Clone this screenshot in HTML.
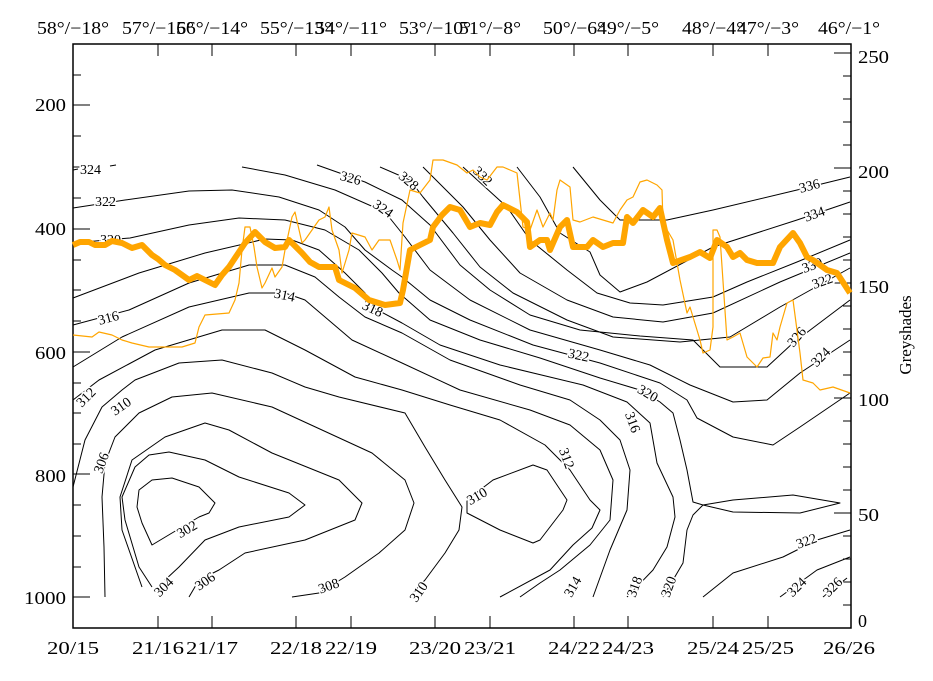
<!DOCTYPE html>
<html><head><meta charset="utf-8"><style>
html,body{margin:0;padding:0;background:#fff;}
svg{display:block;}
text{font-family:"Liberation Serif","DejaVu Serif",serif;fill:#000;}
.c{fill:none;stroke:#000;stroke-width:1;stroke-linejoin:round;}
.l{font-size:14px;paint-order:stroke;stroke:#fff;stroke-width:3px;}
</style></head><body>
<svg width="933" height="681" viewBox="0 0 933 681" xmlns="http://www.w3.org/2000/svg">
<rect width="933" height="681" fill="#fff"/>
<!-- top labels -->
<g font-size="18" text-anchor="middle" lengthAdjust="spacingAndGlyphs">
<text x="73" y="34" textLength="72" lengthAdjust="spacingAndGlyphs">58°/−18°</text>
<text x="158" y="34" textLength="72" lengthAdjust="spacingAndGlyphs">57°/−16°</text>
<text x="212" y="34" textLength="72" lengthAdjust="spacingAndGlyphs">56°/−14°</text>
<text x="296" y="34" textLength="72" lengthAdjust="spacingAndGlyphs">55°/−13°</text>
<text x="351" y="34" textLength="72" lengthAdjust="spacingAndGlyphs">54°/−11°</text>
<text x="435" y="34" textLength="72" lengthAdjust="spacingAndGlyphs">53°/−10°</text>
<text x="490" y="34" textLength="62" lengthAdjust="spacingAndGlyphs">51°/−8°</text>
<text x="574" y="34" textLength="62" lengthAdjust="spacingAndGlyphs">50°/−6°</text>
<text x="628" y="34" textLength="62" lengthAdjust="spacingAndGlyphs">49°/−5°</text>
<text x="713" y="34" textLength="62" lengthAdjust="spacingAndGlyphs">48°/−4°</text>
<text x="768" y="34" textLength="62" lengthAdjust="spacingAndGlyphs">47°/−3°</text>
<text x="849" y="34" textLength="62" lengthAdjust="spacingAndGlyphs">46°/−1°</text>
</g>
<!-- bottom labels -->
<g font-size="18" text-anchor="middle">
<text x="73" y="654" textLength="52" lengthAdjust="spacingAndGlyphs">20/15</text>
<text x="158" y="654" textLength="52" lengthAdjust="spacingAndGlyphs">21/16</text>
<text x="212" y="654" textLength="52" lengthAdjust="spacingAndGlyphs">21/17</text>
<text x="296" y="654" textLength="52" lengthAdjust="spacingAndGlyphs">22/18</text>
<text x="351" y="654" textLength="52" lengthAdjust="spacingAndGlyphs">22/19</text>
<text x="435" y="654" textLength="52" lengthAdjust="spacingAndGlyphs">23/20</text>
<text x="490" y="654" textLength="52" lengthAdjust="spacingAndGlyphs">23/21</text>
<text x="574" y="654" textLength="52" lengthAdjust="spacingAndGlyphs">24/22</text>
<text x="628" y="654" textLength="52" lengthAdjust="spacingAndGlyphs">24/23</text>
<text x="713" y="654" textLength="52" lengthAdjust="spacingAndGlyphs">25/24</text>
<text x="768" y="654" textLength="52" lengthAdjust="spacingAndGlyphs">25/25</text>
<text x="849" y="654" textLength="52" lengthAdjust="spacingAndGlyphs">26/26</text>
</g>
<!-- left labels -->
<g font-size="18" text-anchor="end">
<text x="66" y="111" textLength="31" lengthAdjust="spacingAndGlyphs">200</text>
<text x="66" y="235" textLength="31" lengthAdjust="spacingAndGlyphs">400</text>
<text x="66" y="359" textLength="31" lengthAdjust="spacingAndGlyphs">600</text>
<text x="66" y="482" textLength="31" lengthAdjust="spacingAndGlyphs">800</text>
<text x="66" y="604" textLength="42" lengthAdjust="spacingAndGlyphs">1000</text>
</g>
<!-- right labels -->
<g font-size="18" text-anchor="start">
<text x="858" y="63" textLength="31" lengthAdjust="spacingAndGlyphs">250</text>
<text x="858" y="178" textLength="31" lengthAdjust="spacingAndGlyphs">200</text>
<text x="858" y="293" textLength="31" lengthAdjust="spacingAndGlyphs">150</text>
<text x="858" y="406" textLength="31" lengthAdjust="spacingAndGlyphs">100</text>
<text x="858" y="521" textLength="21" lengthAdjust="spacingAndGlyphs">50</text>
<text x="858" y="627">0</text>
</g>
<text x="911" y="335" font-size="17" text-anchor="middle" transform="rotate(-90 911 335)">Greyshades</text>

<!-- frame -->
<rect x="73" y="44" width="778" height="584" fill="none" stroke="#000" stroke-width="1.5"/>
<g stroke="#000" stroke-width="1">
<path d="M73 75h8M73 105h17M73 136h8M73 167h8M73 198h8M73 229h17M73 260h8M73 290h8M73 321h8M73 352h17M73 383h8M73 413h8M73 444h8M73 474h17M73 505h8M73 536h8M73 567h8M73 597h17"/>
<path d="M851 53h-17M851 76h-8M851 99h-8M851 122h-8M851 145h-8M851 168h-17M851 191h-8M851 214h-8M851 237h-8M851 260h-8M851 283h-17M851 306h-8M851 329h-8M851 352h-8M851 375h-8M851 398h-17M851 421h-8M851 444h-8M851 467h-8M851 490h-8M851 513h-17M851 536h-8M851 559h-8M851 582h-8M851 605h-8"/>
<path d="M158 44v12M212 44v12M296 44v12M351 44v12M435 44v12M490 44v12M574 44v12M628 44v12M713 44v12M768 44v12"/>
<path d="M158 628v-12M212 628v-12M296 628v-12M351 628v-12M435 628v-12M490 628v-12M574 628v-12M628 628v-12M713 628v-12M768 628v-12"/>
</g>

<!-- contours -->
<g class="c">
<polyline points="73,170 78,169"/>
<polyline points="110,166 116,165"/>
<polyline points="573,167 600,200 620,220 667,220 713,210 797,190 850,177"/>
<polyline points="517,167 540,197 560,233 590,252 600,275 620,292 647,282 713,247 797,220 850,202"/>
<polyline points="463,167 507,207 530,240 567,270 597,293 630,303 663,305 713,297 747,282 797,262 850,240"/>
<polyline points="423,167 463,207 490,240 520,273 567,300 613,317 663,322 713,313 780,282 850,253"/>
<polyline points="380,167 410,180 423,197 453,233 480,267 513,293 567,320 613,337 680,342 730,337 780,307 850,268"/>
<polyline points="317,165 365,182 402,200 430,225 460,265 490,290 530,315 580,330 640,336 693,340 720,367 767,367 793,343 850,300"/>
<polyline points="242,167 285,175 335,190 385,212 405,237 430,270 470,300 530,330 600,350 650,365 690,385 733,402 767,400 800,373 850,340"/>
<polyline points="73,208 125,200 189,191 232,190 279,197 319,210 345,227 365,250 392,270 402,277 430,300 470,320 533,345 600,363 660,383 687,400 697,418 733,437 773,445 800,427 850,393"/>
<polyline points="73,243 130,238 189,225 239,218 285,220 325,230 359,250 382,273 399,293 430,320 480,340 540,358 600,378 640,390 660,402 673,413 680,440 687,470 693,502 703,505 693,515 687,530 683,563 673,580 663,597"/>
<polyline points="73,298 139,273 205,253 265,239 292,240 319,250 345,273 365,293 372,307 402,323 440,345 500,365 583,385 627,402 650,423 657,463 673,497 675,517 667,547 653,570 627,597"/>
<polyline points="73,325 129,310 189,283 249,265 285,265 315,277 339,297 365,317 402,333 450,360 520,385 570,400 600,420 620,440 630,470 627,510 610,550 593,597"/>
<polyline points="73,367 122,337 189,307 249,293 285,293 305,300 325,317 352,340 402,363 460,390 530,410 570,425 600,450 613,480 610,520 590,545 560,570 540,583 520,597"/>
<polyline points="73,400 99,380 155,350 222,330 265,330 305,350 355,377 402,390 450,405 500,420 545,445 570,470 590,500 600,510 592,528 573,545 550,570 500,597"/>
<polyline points="73,487 85,440 102,407 122,390 135,380 179,363 222,360 272,373 305,387 339,397 405,413 425,447 445,480 462,507 459,530 445,553 425,580 409,597"/>
<polyline points="105,597 104,547 102,497 105,463 115,437 139,413 172,397 212,393 272,407 322,430 372,453 405,480 414,503 405,530 379,553 345,577 319,593 292,597"/>
<polyline points="189,597 199,580 219,570 245,553 305,540 355,520 362,503 339,480 272,453 229,430 205,423 165,437 132,460 120,497 122,530 142,587"/>
<polyline points="165,580 179,567 205,540 239,527 289,517 305,505 289,493 239,477 205,460 169,452 149,455 135,467 122,497 125,520 139,567 152,587"/>
<polygon points="152,545 142,523 137,507 139,490 152,480 172,478 199,487 215,503 209,513 199,517 172,533"/>
<polygon points="467,500 493,480 533,465 547,470 567,500 563,510 540,540 533,543 500,530 467,513"/>
<polygon points="703,505 733,500 793,495 840,503 800,513 733,512"/>
<polyline points="703,597 733,573 783,557 817,540 850,530"/>
<polyline points="780,597 817,570 850,557"/>
<polyline points="823,597 847,578"/>
</g>

<!-- contour labels -->
<g class="l">
<text x="80" y="174">324</text>
<text x="95" y="206">322</text>
<text x="100" y="244">320</text>
<text x="98" y="322" transform="rotate(-15 110 318)">316</text>
<text x="76" y="402" transform="rotate(-45 86 398)">312</text>
<text x="110" y="410" transform="rotate(-35 122 405)">310</text>
<text x="92" y="470" transform="rotate(-70 100 465)">306</text>
<text x="176" y="533" transform="rotate(-30 188 528)">302</text>
<text x="153" y="592" transform="rotate(-45 163 587)">304</text>
<text x="194" y="585" transform="rotate(-35 206 580)">306</text>
<text x="318" y="590" transform="rotate(-20 330 585)">308</text>
<text x="408" y="597" transform="rotate(-55 418 592)">310</text>
<text x="274" y="300" transform="rotate(12 286 296)">314</text>
<text x="362" y="313" transform="rotate(25 372 309)">318</text>
<text x="340" y="183" transform="rotate(15 352 179)">326</text>
<text x="372" y="214" transform="rotate(35 384 210)">324</text>
<text x="398" y="185" transform="rotate(40 408 181)">328</text>
<text x="472" y="180" transform="rotate(45 482 176)">332</text>
<text x="568" y="360" transform="rotate(12 580 356)">322</text>
<text x="637" y="398" transform="rotate(30 648 394)">320</text>
<text x="622" y="426" transform="rotate(70 632 422)">316</text>
<text x="556" y="462" transform="rotate(70 566 458)">312</text>
<text x="466" y="500" transform="rotate(-30 478 495)">310</text>
<text x="562" y="592" transform="rotate(-60 572 587)">314</text>
<text x="624" y="592" transform="rotate(-70 634 587)">318</text>
<text x="658" y="592" transform="rotate(-70 668 587)">320</text>
<text x="799" y="190" transform="rotate(-15 811 186)">336</text>
<text x="804" y="218" transform="rotate(-20 816 214)">334</text>
<text x="802" y="270" transform="rotate(-20 812 266)">330</text>
<text x="812" y="286" transform="rotate(-20 822 282)">322</text>
<text x="786" y="342" transform="rotate(-50 796 337)">326</text>
<text x="810" y="362" transform="rotate(-45 820 357)">324</text>
<text x="796" y="545" transform="rotate(-20 808 541)">322</text>
<text x="786" y="592" transform="rotate(-45 796 587)">324</text>
<text x="822" y="592" transform="rotate(-45 832 587)">326</text>
</g>

<!-- thin orange -->
<polyline fill="none" stroke="#ffa500" stroke-width="1.2" stroke-linejoin="round" points="73,335 92,337 99,332 112,335 122,340 132,343 149,347 182,347 195,343 199,327 205,315 229,313 235,300 239,283 242,250 245,227 250,227 254,247 257,267 262,288 265,283 272,268 275,277 282,267 285,250 292,217 295,212 302,243 305,240 319,220 325,217 329,207 332,230 339,250 342,273 349,250 352,233 365,237 372,250 379,240 385,240 390,240 397,260 400,270 403,223 410,190 420,193 430,180 433,160 443,160 457,165 467,173 473,170 480,177 487,180 497,167 503,167 517,173 523,227 530,230 537,210 543,227 550,213 553,220 557,190 560,180 570,187 573,220 580,222 593,217 613,223 620,210 627,200 633,197 640,182 647,180 657,185 662,190 663,223 673,240 680,280 687,313 690,307 700,340 703,353 710,350 713,327 713,230 717,230 720,237 727,340 733,337 740,333 747,357 757,367 763,358 770,357 773,333 777,340 780,327 787,303 793,300 800,353 803,380 813,383 820,390 833,387 850,393"/>
<!-- thick orange -->
<polyline fill="none" stroke="#ffa500" stroke-width="6" stroke-linejoin="round" points="73,245 80,242 89,242 95,245 105,245 112,241 122,243 132,248 142,245 152,255 158,259 165,265 175,270 189,280 197,276 205,280 215,285 222,275 229,267 237,255 245,243 255,232 265,242 275,248 285,247 289,240 302,253 310,262 319,267 335,267 339,280 355,288 369,300 385,305 400,303 403,290 410,250 430,240 433,227 442,215 450,207 460,210 470,227 480,223 490,225 497,212 503,205 517,212 527,222 530,247 540,240 547,240 550,250 560,227 567,220 573,247 587,247 593,240 603,247 613,243 623,243 627,217 633,223 643,210 653,217 660,208 667,240 673,263 690,257 700,252 710,258 717,240 727,247 733,257 740,253 747,260 757,263 773,263 780,247 793,233 800,243 807,257 813,260 827,270 837,273 850,293"/>
</svg>
</body></html>
